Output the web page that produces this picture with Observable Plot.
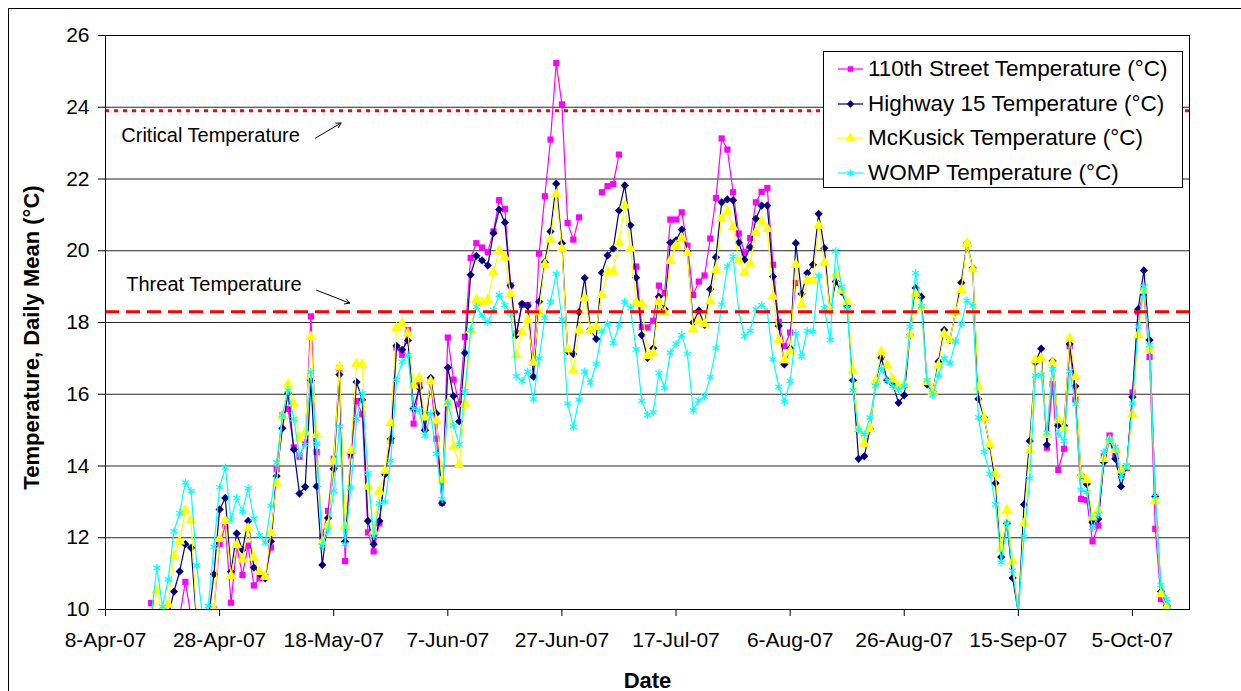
<!DOCTYPE html>
<html><head><meta charset="utf-8">
<script src="https://cdn.jsdelivr.net/npm/d3@7"></script>
<script src="https://cdn.jsdelivr.net/npm/@observablehq/plot@0.6"></script>
<style>
html,body{margin:0;padding:0;background:#fff;}
#wrap{position:relative;width:1241px;height:691px;overflow:hidden;font-family:"Liberation Sans",Arial,sans-serif;}
#border{position:absolute;left:8px;top:8px;width:1300px;height:800px;border-left:1px solid #000;border-top:1px solid #000;}
#chart{position:absolute;left:0;top:0;}
#legend{position:absolute;left:823px;top:51px;width:358px;height:135px;border:1px solid #000;background:#fff;}
.row{position:absolute;left:0;height:34px;display:flex;align-items:center;font-size:22.5px;color:#000;white-space:nowrap;}
.row svg{margin-left:14px;margin-right:5px;}
</style></head>
<body><div id="wrap"><div id="border"></div><div id="chart"></div><div id="legend"></div></div>
<script>
// ---- data: daily mean temperature (°C), one value per day starting 16-Apr-07 ----
const firstReadingDay = "2007-04-16";
const street110 = [
  10.18, 9.6, 9.5, 9.5, 9.6, 9.8, 10.77, 9.8, 9.3, 9.2,
  9.5, 10.0, 11.82, 12.34, 10.19, 11.76, 10.96, 11.78, 10.67, 10.87,
  10.91, 11.73, 13.91, 15.41, 15.59, 14.52, 14.26, 14.65, 18.17, 14.39,
  12.03, 12.75, 14.2, 16.72, 11.35, 14.29, 15.81, 15.44, 12.15, 11.62,
  12.4, 13.8, 14.7, 17.3, 17.1, 17.79, 15.18, 16.25, 15.04, 16.36,
  14.76, 12.97, 17.58, 16.41, 15.72, 17.6, 19.8, 20.21, 20.09, 19.96,
  20.54, 21.41, 21.16, 19.03, 17.7, 18.49, 18.49, 16.88, 19.92, 21.52,
  23.1, 25.23, 24.08, 20.77, 20.31, 20.93, null, null, null, 21.63,
  21.8, 21.86, 22.68, null, null, 19.56, 17.88, 17.86, 18.05, 19.03,
  18.82, 20.87, 20.87, 21.07, 20.14, 18.77, 19.14, 19.31, 20.34, 21.47,
  23.13, 22.82, 21.63, 20.48, 19.95, 20.35, 21.35, 21.64, 21.75, 19.61,
  18.02, 17.34, 17.72, 19.1, null, null, null, null, null, null,
  null, null, null, null, null, null, null, null, null, null,
  null, null, null, null, null, null, null, null, null, null,
  null, null, null, null, null, null, null, null, null, null,
  null, null, null, null, null, null, null, 14.51, 16.28, 13.89,
  14.48, 17.34, 15.85, 13.08, 13.05, 11.9, 12.34, 14.27, 14.85, 14.27,
  13.76, 13.95, 16.05, 18.3, 18.82, 17.04, 12.25, 10.29, 10.07, 9.8,
  9.7, 9.6, null, null
];
const highway15 = [
  9.6, 9.7, 9.6, 9.8, 10.5, 11.06, 11.82, 11.72, 9.6, 9.4,
  9.7, 10.98, 12.79, 13.11, 11.05, 12.12, 11.66, 12.47, 11.17, 11.0,
  10.87, 11.9, 13.72, 15.05, 16.03, 14.46, 13.23, 13.42, 16.38, 13.43,
  11.24, 12.55, 13.92, 16.55, 11.89, 14.35, 16.34, 15.85, 12.47, 11.82,
  12.47, 13.78, 14.76, 17.35, 17.24, 17.5, 15.6, 16.18, 15.0, 16.46,
  15.46, 12.97, 16.74, 15.95, 15.24, 17.15, 19.33, 19.86, 19.73, 19.59,
  20.49, 21.15, 20.79, 19.03, 17.65, 18.52, 18.47, 16.49, 18.58, 19.68,
  20.54, 21.87, 20.21, 17.2, 17.12, 18.29, 19.24, 17.81, 17.54, 19.39,
  19.87, 20.06, 21.12, 21.82, 20.71, 19.25, 17.65, 17.01, 17.28, 18.72,
  18.37, 20.23, 20.29, 20.59, 19.98, 18.0, 18.33, 17.93, 18.93, 19.82,
  21.35, 21.43, 21.41, 20.23, 19.75, 20.1, 20.89, 21.26, 21.26, 19.28,
  17.9, 16.83, 17.28, 20.21, 18.8, 19.38, 19.61, 21.03, 20.07, 18.33,
  19.14, 18.86, 18.46, 16.39, 14.2, 14.27, 15.04, 16.35, 17.02, 16.39,
  16.28, 15.76, 15.97, 17.65, 18.96, 18.72, 16.27, 16.07, 16.91, 17.79,
  17.51, 18.3, 19.11, 20.21, 19.52, 15.87, 15.35, 14.56, 13.52, 11.46,
  12.4, 10.88, 9.9, 12.93, 14.7, 16.89, 17.27, 14.59, 16.93, 15.13,
  15.12, 17.4, 16.22, 13.74, 13.5, 12.43, 12.52, 14.11, 14.73, 14.2,
  13.43, 13.99, 15.92, 18.37, 19.45, 17.51, 13.15, 10.5, 10.1, 9.85,
  9.75, 9.7, null, null
];
const mckusick = [
  9.7, 10.53, 9.8, 10.14, 11.5, 11.9, 12.76, 12.48, 9.7, 9.5,
  9.8, 10.0, 11.97, 12.47, 10.94, 11.8, 11.4, 12.26, 11.45, 11.05,
  10.91, 12.14, 13.52, 15.4, 16.28, 15.75, 14.77, 14.94, 17.6, 14.87,
  11.88, 12.35, 14.14, 16.76, 12.33, 14.43, 16.85, 16.83, 13.43, 12.17,
  13.29, 13.87, 15.2, 17.85, 17.97, 17.7, 16.25, 16.46, 15.36, 16.36,
  15.27, 13.62, 15.75, 14.54, 14.03, 15.74, 17.79, 18.63, 18.56, 18.63,
  19.4, 20.0, 19.82, 18.8, 17.09, 17.72, 18.07, 16.88, 18.3, 19.61,
  20.31, 21.57, 20.06, 17.25, 16.67, 17.79, 18.68, 17.79, 17.87, 18.77,
  19.42, 19.42, 20.23, 21.27, 20.06, 18.56, 18.52, 17.07, 17.15, 18.58,
  18.28, 19.72, 20.14, 20.35, 19.95, 17.81, 18.05, 17.96, 18.6, 19.47,
  20.9, 21.1, 20.66, 19.73, 19.39, 19.64, 20.51, 20.82, 20.61, 18.72,
  17.51, 16.95, 17.2, 19.61, 18.49, 19.17, 19.17, 20.7, 19.67, 18.33,
  19.34, 18.89, 18.58, 16.67, 15.04, 14.62, 15.04, 16.37, 17.19, 16.81,
  16.41, 16.21, 16.28, 17.65, 18.8, 18.4, 16.35, 16.07, 16.81, 17.68,
  17.51, 18.3, 18.91, 20.21, 19.49, 16.2, 15.33, 14.6, 13.77, 11.7,
  12.78, 11.34, 9.9, 12.4, 14.43, 16.95, 17.0, 14.87, 16.88, 15.28,
  15.05, 17.56, 16.48, 13.74, 13.61, 12.57, 12.76, 14.2, 14.73, 14.45,
  13.88, 13.99, 15.44, 17.65, 18.89, 17.25, 13.02, 10.43, 10.07, 9.85,
  9.75, 9.7, null, null
];
const womp = [
  9.8, 11.16, 10.08, 10.84, 12.18, 12.69, 13.54, 13.3, 11.23, 9.8,
  10.1, 11.75, 13.41, 13.95, 12.49, 13.11, 12.73, 13.38, 12.54, 12.07,
  11.86, 12.89, 14.1, 15.42, 16.11, 15.31, 14.3, 14.6, 16.62, 14.62,
  11.78, 12.2, 13.3, 15.11, 11.82, 13.39, 15.32, 16.03, 13.8, 12.05,
  12.96, 13.01, 14.15, 16.39, 16.9, 17.09, 15.6, 15.55, 14.85, 15.46,
  14.34, 13.08, 15.77, 15.13, 14.6, 16.09, 17.79, 18.44, 18.19, 18.0,
  18.35, 18.77, 18.49, 18.26, 16.5, 16.37, 16.63, 15.86, 17.0, 18.12,
  18.58, 19.36, 18.09, 15.74, 15.09, 15.85, 16.63, 16.32, 16.84, 17.74,
  17.98, 17.42, 17.93, 18.58, 18.4, 17.25, 15.82, 15.42, 15.5, 16.59,
  16.18, 17.16, 17.4, 17.65, 17.12, 15.55, 15.83, 15.94, 16.49, 17.28,
  18.5, 19.56, 19.84, 18.3, 17.62, 17.77, 18.37, 18.49, 18.3, 16.97,
  16.21, 15.79, 16.37, 17.7, 17.05, 17.77, 17.74, 19.3, 18.4, 17.51,
  20.0, 19.0, 18.42, 16.11, 15.01, 14.88, 15.35, 16.23, 16.72, 16.39,
  16.23, 16.11, 16.23, 17.88, 19.38, 18.46, 16.39, 15.97, 16.53, 17.0,
  16.86, 17.48, 17.96, 18.61, 18.46, 15.36, 14.39, 13.78, 12.93, 11.31,
  12.4, 11.08, 9.9, 12.03, 13.66, 16.52, 16.54, 14.93, 16.7, 14.89,
  14.7, 16.64, 15.72, 13.34, 13.27, 12.27, 12.65, 14.39, 14.76, 14.53,
  13.69, 14.02, 15.74, 17.88, 19.0, 17.37, 13.15, 10.69, 10.29, 9.9,
  9.88, 9.88, 9.9, 10.6
];
const seriesNames = ["110th Street Temperature (°C)", "Highway 15 Temperature (°C)", "McKusick Temperature (°C)", "WOMP Temperature (°C)"];
const xTickLabels = ["2007-04-08","2007-04-28","2007-05-18","2007-06-07","2007-06-27","2007-07-17","2007-08-06","2007-08-26","2007-09-15","2007-10-05"];
const xDomain = ["2007-04-08", "2007-10-15"];
const yTicks = [10, 12, 14, 16, 18, 20, 22, 24, 26];
const criticalTemp = 23.9;
const threatTemp = 18.3;
const noteLabels = ["Critical Temperature", "Threat Temperature"];
const noteAt = [["2007-04-26T10:00", 23.2], ["2007-04-27T00:00", 19.06]];
const arrowFrom = [["2007-05-14T19:00", 23.14], ["2007-05-15T00:00", 18.9]];
const arrowTo = [["2007-05-19T07:00", 23.56], ["2007-05-20T19:00", 18.54]];

// ---- build ----
const parse = s => new Date(s.length === 10 ? s + "T00:00:00Z" : s + "Z");
const DAY = 864e5;
const t0 = parse(firstReadingDay).getTime();
const dates = street110.map((_, i) => new Date(t0 + i * DAY));
const valueSets = [street110, highway15, mckusick, womp];
const styles = [
  {color: "#FF00FF", symbol: "square", r: 3.5, filled: true},
  {color: "#000080", symbol: "diamond2", r: 3.7, filled: true},
  {color: "#FFFF00", symbol: "triangle", r: 4.1, filled: true},
  {color: "#00FFFF", symbol: "asterisk", r: 3.8, filled: false}
];
const tables = valueSets.map((vals, k) => vals.map((v, i) => ({series: seriesNames[k], date: dates[i], value: v == null ? NaN : v})));
const xTicks = xTickLabels.map(parse);
const notes = noteLabels.map((t, i) => ({text: t, date: parse(noteAt[i][0]), value: noteAt[i][1]}));
const arrows = arrowFrom.map((f, i) => ({x1: parse(f[0]), y1: f[1], x2: parse(arrowTo[i][0]), y2: arrowTo[i][1]}));

const seriesMarks = tables.flatMap((rows, k) => {
  const s = styles[k];
  return [
    Plot.line(rows, {x: "date", y: "value", stroke: s.color, strokeWidth: 1.2, clip: true}),
    Plot.dot(rows.filter(d => !isNaN(d.value)), {x: "date", y: "value", symbol: s.symbol, r: s.r,
      fill: s.filled ? s.color : "none", stroke: s.filled ? "none" : s.color, strokeWidth: 1.2, clip: true})
  ];
});

const fmt = d3.utcFormat("%-d-%b-%y");
const chart = Plot.plot({
  width: 1241, height: 691,
  marginLeft: 105, marginRight: 52, marginTop: 35, marginBottom: 82,
  style: {fontFamily: "'Liberation Sans', Arial, sans-serif", fontSize: "21px", background: "transparent", color: "#000", overflow: "visible"},
  x: {type: "utc", domain: xDomain.map(parse)},
  y: {domain: [10, 26]},
  marks: [
    Plot.gridY(yTicks, {stroke: "#000", strokeOpacity: 0.85, strokeWidth: 1}),
    ...seriesMarks,
    Plot.ruleY([criticalTemp], {stroke: "#FF0000", strokeWidth: 3, strokeDasharray: "4,5"}),
    Plot.ruleY([threatTemp], {stroke: "#FF0000", strokeWidth: 3, strokeDasharray: "14,7"}),
    Plot.frame({stroke: "#000"}),
    Plot.text(notes, {x: "date", y: "value", text: "text", fontSize: 20, textAnchor: "middle"}),
    Plot.arrow(arrows, {x1: "x1", y1: "y1", x2: "x2", y2: "y2", stroke: "#000", strokeWidth: 1, headLength: 8}),
    Plot.axisX(xTicks, {tickFormat: fmt, tickSize: 7, tickPadding: 16, label: null}),
    Plot.axisY(yTicks, {tickSize: 7, tickPadding: 9, label: null}),
    Plot.text(["Temperature, Daily Mean (°C)"], {frameAnchor: "left", textAnchor: "middle", rotate: -90, dx: -74, dy: 15, fontWeight: "bold", fontSize: 22}),
    Plot.text(["Date"], {frameAnchor: "bottom", textAnchor: "middle", dy: 78, fontWeight: "bold", fontSize: 22})
  ]
});
document.getElementById("chart").appendChild(chart);

// ---- legend ----
const legend = document.getElementById("legend");
seriesNames.forEach((name, k) => {
  const s = styles[k];
  const row = document.createElement("div");
  row.className = "row";
  row.style.top = (k * 34.5) + "px";
  const sym = d3.symbol(d3["symbol" + s.symbol[0].toUpperCase() + s.symbol.slice(1)], Math.PI * s.r * s.r * 0.8)();
  row.innerHTML = `<svg width="25" height="14" viewBox="0 0 25 14"><line x1="0" x2="25" y1="7" y2="7" stroke="${s.color}" stroke-width="1.2"/>` +
    `<path transform="translate(12.5,7)" d="${sym}" fill="${s.filled ? s.color : "none"}" stroke="${s.filled ? "none" : s.color}" stroke-width="1.2"/></svg><span>${name}</span>`;
  legend.appendChild(row);
});
</script></body></html>
